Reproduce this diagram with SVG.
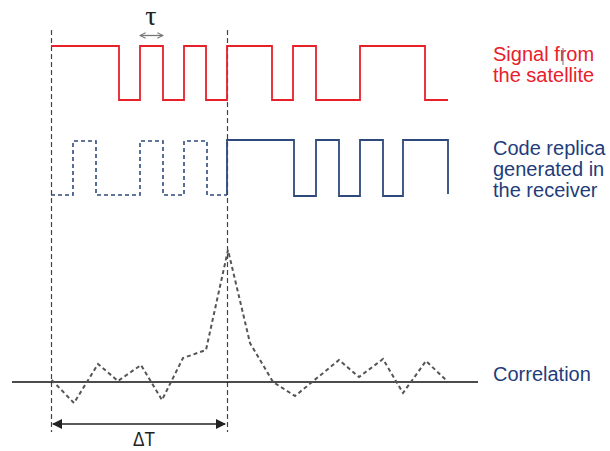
<svg xmlns="http://www.w3.org/2000/svg" width="610" height="451" viewBox="0 0 610 451">
<style>
.lbl{font-family:"Liberation Sans",Arial,sans-serif;font-size:20px}
.red{fill:#e8202a}
.blue{fill:#1f3d7a}
.guide{stroke:#444;stroke-width:1.2;stroke-dasharray:5 3;fill:none}
.sig{stroke:#e8202a;stroke-width:1.8;fill:none}
.rep{stroke:#2e4a7d;stroke-width:1.8;fill:none}
.repd{stroke:#2e4a7d;stroke-width:1.6;fill:none;stroke-dasharray:4 3}
.corr{stroke:#555;stroke-width:2;fill:none;stroke-dasharray:4 3}
</style>
<defs>
<marker id="ah" viewBox="0 0 10 10" refX="9" refY="5" markerWidth="10" markerHeight="10" markerUnits="userSpaceOnUse" orient="auto-start-reverse">
<path d="M0,0 L10,5 L0,10 z" fill="#222"/>
</marker>
<marker id="ch" viewBox="0 0 10 10" refX="9" refY="5" markerWidth="7" markerHeight="7" markerUnits="userSpaceOnUse" orient="auto-start-reverse">
<path d="M1,1 L9,5 L1,9" fill="none" stroke="#777" stroke-width="1.5"/>
</marker>
</defs>
<rect width="610" height="451" fill="#fff"/>
<g id="connectors">
<line class="guide" x1="51.5" y1="30" x2="51.5" y2="432"/>
<line class="guide" x1="227.5" y1="30" x2="227.5" y2="432"/>
<line x1="140" y1="35.5" x2="163" y2="35.5" stroke="#777" stroke-width="1.3" marker-start="url(#ch)" marker-end="url(#ch)"/>
<line x1="53" y1="424" x2="225" y2="424" stroke="#222" stroke-width="1.5" marker-start="url(#ah)" marker-end="url(#ah)"/>
<line x1="12" y1="382" x2="478" y2="382" stroke="#111" stroke-width="1.3"/>
</g>
<g id="signal">
<path class="sig" d="M51,46 H119 V100 H140 V46 H163 V100 H184 V46 H206 V100 H227 V46 H272 V100 H293 V46 H316 V100 H360 V46 H425 V100 H448"/>
</g>
<g id="replica">
<path class="repd" d="M51,195 H73 V141 H96 V195 H140 V141 H163 V195 H184 V141 H207 V195 H227"/>
<path class="rep" d="M227,195 V140 H294 V196 H316 V140 H339 V196 H360 V140 H383 V196 H403 V140 H448 V194"/>
</g>
<g id="correlation">
<polyline class="corr" points="51.7,380 74,403 98,364 118,381 141,365 162,400 183,358 206,350 228,250 250,343 273,382 295,396 339,360 359,377 383,359 403,393 426,361 446,380"/>
</g>
<g id="labels">
<text class="lbl red" x="493" y="61">Signal from</text>
<line x1="563" y1="48" x2="563" y2="65" stroke="#777" stroke-width="1"/>
<text class="lbl red" x="493" y="82">the satellite</text>
<text class="lbl blue" x="493" y="155">Code replica</text>
<text class="lbl blue" x="493" y="176">generated in</text>
<text class="lbl blue" x="493" y="197">the receiver</text>
<text class="lbl blue" x="493" y="381">Correlation</text>
<text x="151" y="25" text-anchor="middle" font-family="'Liberation Serif','Times New Roman',serif" font-size="28" fill="#222">τ</text>
<text x="144" y="446" text-anchor="middle" font-family="'Liberation Sans',Arial,sans-serif" font-size="21" textLength="22" lengthAdjust="spacingAndGlyphs" fill="#222">ΔT</text>
</g>
</svg>
